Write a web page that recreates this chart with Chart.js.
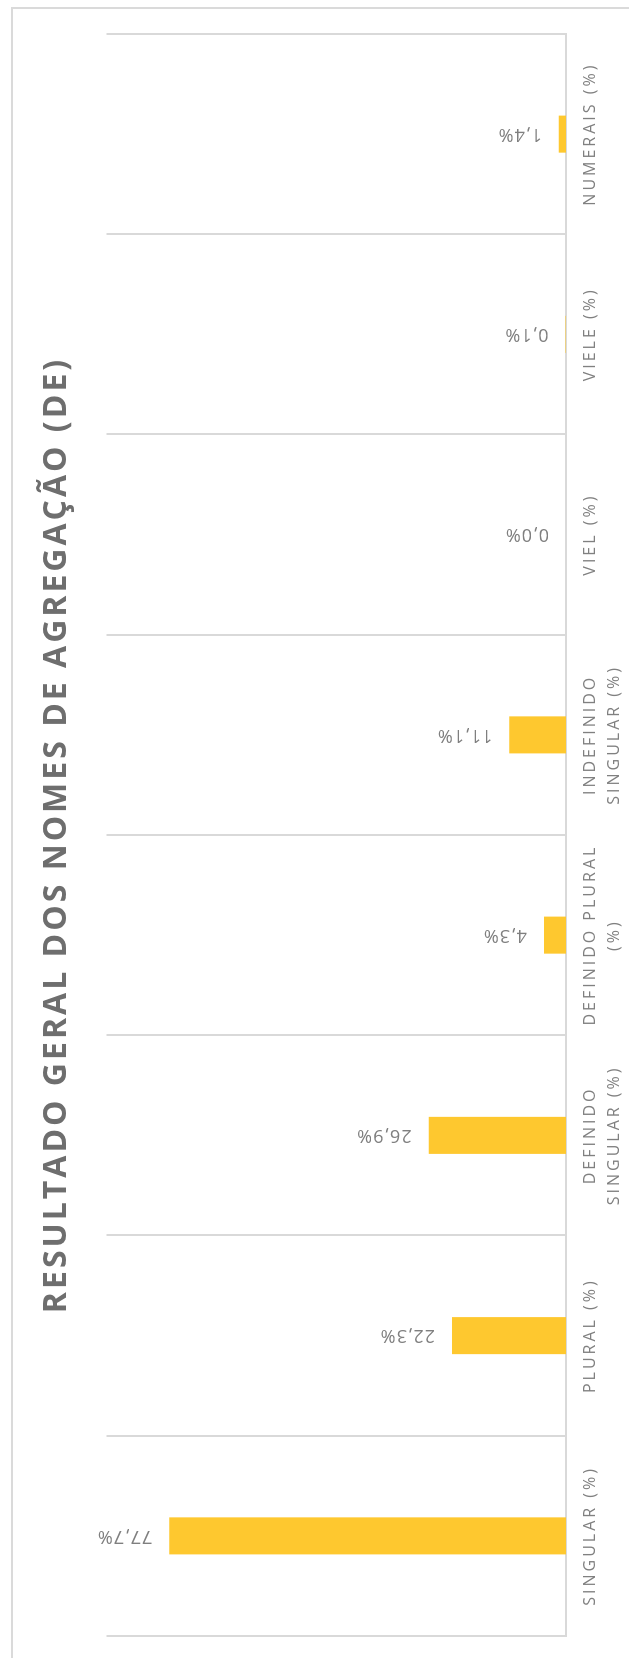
<!DOCTYPE html>
<html>
<head>
<meta charset="utf-8">
<script src="https://cdn.jsdelivr.net/npm/chart.js@4"></script>
<style>
  html, body { margin: 0; padding: 0; background: #fff; }
  body { width: 629px; height: 1658px; position: relative; overflow: hidden; }
  #moldura { position: absolute; left: 11px; top: 7px; right: -10px; bottom: -10px; border-left: 2px solid #dadada; border-top: 2px solid #dadada; }
  #giro { position: absolute; left: 0; top: 0; width: 1658px; height: 629px; transform-origin: 0 0; transform: translate(0, 1658px) rotate(-90deg); }
</style>
</head>
<body>
<div id="moldura"></div>
<div id="giro"><canvas id="graficoBar" width="1658" height="629"></canvas></div>
<script>
var titulo = 'RESULTADO GERAL DOS NOMES DE AGREGAÇÃO (DE)';
var categorias = [
    ['SINGULAR (%)'],
    ['PLURAL (%)'],
    ['DEFINIDO', 'SINGULAR (%)'],
    ['DEFINIDO PLURAL', '(%)'],
    ['INDEFINIDO', 'SINGULAR (%)'],
    ['VIEL (%)'],
    ['VIELE (%)'],
    ['NUMERAIS (%)']
];
var valores = [77.7, 22.3, 26.9, 4.3, 11.1, 0.0, 0.1, 1.4];

// o grafico original esta girado 90 graus; desenha deitado e gira o canvas
var espacamento = {
    id: 'espacamento',
    beforeDraw: function (chart) { chart.ctx.letterSpacing = '3px'; },
    afterDraw: function (chart) { chart.ctx.letterSpacing = '0px'; }
};

var rotulos = {
    id: 'rotulos',
    afterDatasetsDraw: function (chart) {
        var ctx = chart.ctx;
        var meta = chart.getDatasetMeta(0);
        ctx.save();
        ctx.letterSpacing = '1px';
        ctx.font = '18px "Open Sans"';
        ctx.fillStyle = '#7f7f7f';
        ctx.textAlign = 'left';
        ctx.textBaseline = 'middle';
        meta.data.forEach(function (barra, i) {
            ctx.save();
            ctx.translate(barra.x, barra.y - 17);
            ctx.rotate(-Math.PI / 2);
            ctx.fillText(valores[i].toFixed(1).replace('.', ',') + '%', 0, 0);
            ctx.restore();
        });
        ctx.restore();
    }
};

new Chart(document.getElementById('graficoBar'), {
    type: 'bar',
    data: {
        labels: categorias,
        datasets: [{
            data: valores,
            backgroundColor: '#fec82f',
            barPercentage: 0.185,
            categoryPercentage: 1
        }]
    },
    options: {
        responsive: false,
        animation: false,
        devicePixelRatio: 1,
        layout: { padding: { left: 22, right: 34, top: 0, bottom: 0 } },
        plugins: {
            legend: { display: false },
            tooltip: { enabled: false },
            title: {
                display: true,
                text: titulo,
                color: '#6e6e6e',
                font: { family: 'Open Sans', size: 32, weight: 'bold' },
                padding: { top: 38, bottom: 30 }
            }
        },
        scales: {
            x: {
                grid: { offset: true, color: '#d9d9d9', lineWidth: 2, drawTicks: false },
                border: { color: '#d9d9d9', width: 2 },
                ticks: {
                    color: '#808080',
                    font: { family: 'Open Sans', size: 16, lineHeight: 1.5 },
                    padding: 12,
                    maxRotation: 0,
                    autoSkip: false
                },
                afterFit: function (escala) { escala.height = 63; }
            },
            y: { display: false, min: 0, max: 90 }
        }
    },
    plugins: [espacamento, rotulos]
});
</script>
</body>
</html>
